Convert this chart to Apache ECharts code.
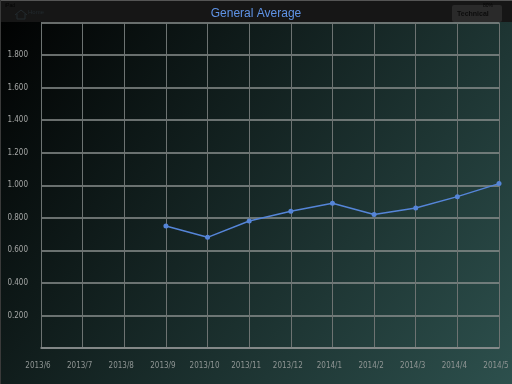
<!DOCTYPE html>
<html>
<head>
<meta charset="utf-8">
<style>
html,body{margin:0;padding:0;background:#000;}
#chart{width:512px;height:384px;}
</style>
<script src="https://cdn.jsdelivr.net/npm/echarts@6/dist/echarts.min.js"></script>
</head>
<body>
<div id="chart"></div>
<script>
var months = ['2013/6','2013/7','2013/8','2013/9','2013/10','2013/11','2013/12','2014/1','2014/2','2014/3','2014/4','2014/5'];
var generalAverage = [null,null,null,0.75,0.68,0.78,0.84,0.89,0.82,0.86,0.93,1.01];

var myChart = echarts.init(document.getElementById('chart'));

var option = {
	animation:false,
	backgroundColor:new echarts.graphic.LinearGradient(0,0,1,1,[
		{offset:0,color:'#000000'},
		{offset:1,color:'#2d504d'}
	]),
	title:{
		text:'General Average',
		left:'center',
		top:3,
		textStyle:{color:'#5f93e6',fontSize:12,fontWeight:'normal',fontFamily:'Liberation Sans'}
	},
	grid:{left:41,right:13,top:22.5,bottom:36},
	xAxis:{
		type:'category',
		boundaryGap:false,
		data:months,
		axisTick:{show:false},
		axisLine:{lineStyle:{color:'#8a8f8e',width:1.5}},
		axisLabel:{color:'#8f9594',fontSize:8,margin:14,fontFamily:'DejaVu Sans Condensed',interval:0,padding:[0,6,0,0]},
		splitLine:{show:true,lineStyle:{color:'#6d7372',width:1}}
	},
	yAxis:{
		type:'value',
		min:0,
		max:2,
		interval:0.2,
		axisTick:{show:false},
		axisLine:{show:true,lineStyle:{color:'#6d7372',width:1}},
		axisLabel:{
			color:'#a4a6a5',fontSize:8,margin:13,fontFamily:'DejaVu Sans Condensed',
			showMinLabel:false,showMaxLabel:false,
			formatter:function(v){return v.toFixed(3)}
		},
		splitLine:{show:true,lineStyle:{color:'#8a8f8e',width:1.5}}
	},
	graphic:[
		{type:'rect',z:-1,shape:{x:0,y:0,width:512,height:22},style:{fill:'#161616'}},
		{type:'rect',z:0,shape:{x:0,y:0,width:512,height:1},style:{fill:'#555555'}},
		{type:'rect',z:0,shape:{x:0,y:0,width:1,height:384},style:{fill:'#3a3a3a'}},
		{type:'rect',z:0,shape:{x:452,y:5,width:50,height:17,r:2},style:{fill:'#2a2a2a'}},
		{type:'polyline',z:1,shape:{points:[[15,15],[21,10],[27,15]]},style:{stroke:'#222a2e',fill:'none',lineWidth:1}},
		{type:'polyline',z:1,shape:{points:[[17,14],[17,19],[25,19],[25,14]]},style:{stroke:'#222a2e',fill:'none',lineWidth:1}},
		{type:'text',z:1,x:28,y:9,style:{text:'Home',fill:'#222a2e',font:'6px Liberation Sans'}},
		{type:'text',z:1,x:457,y:11,style:{text:'Technical',fill:'#0c0c0c',font:'bold 7px Liberation Sans'}},
		{type:'text',z:1,x:5,y:3,style:{text:'iPad',fill:'#050505',font:'5px Liberation Sans'}},
		{type:'text',z:1,x:483,y:3,style:{text:'80%',fill:'#050505',font:'5px Liberation Sans'}}
	],
	series:[
		{
			name:'General Average',
			type:'line',
			data:generalAverage,
			symbol:'circle',
			symbolSize:5,
			connectNulls:false,
			lineStyle:{color:'#5585d8',width:1.5},
			itemStyle:{color:'#5585d8'}
		}
	]
};

myChart.setOption(option);
</script>
</body>
</html>
